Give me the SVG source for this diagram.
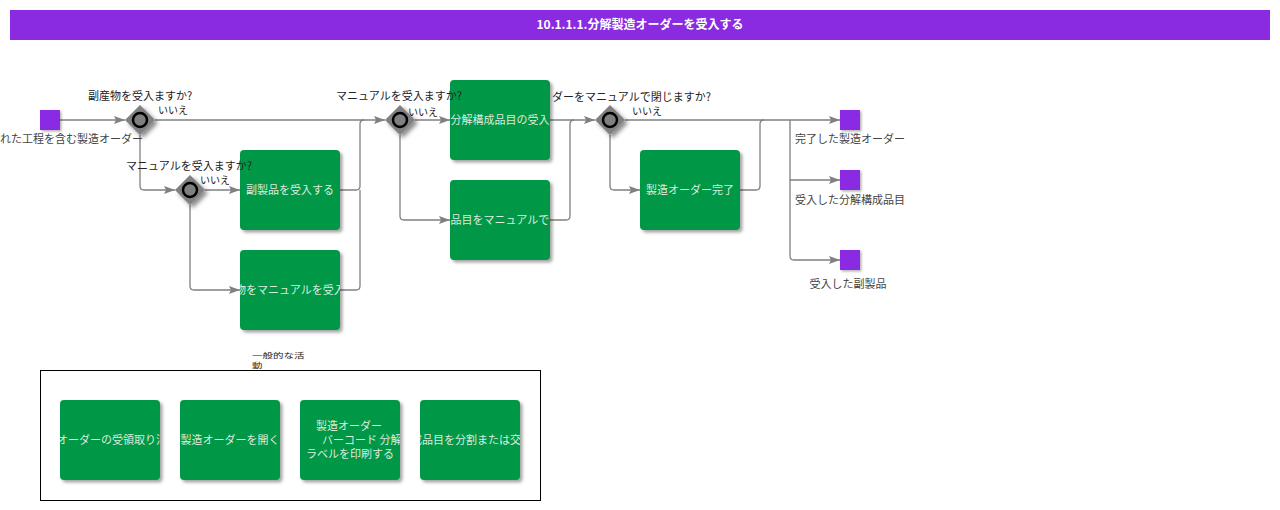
<svg xmlns="http://www.w3.org/2000/svg" width="1280" height="510" viewBox="0 0 1280 510">
<style>
text{font-family:"Noto Sans CJK JP","Noto Sans",sans-serif;}
.title{fill:#fff;font-size:12px;font-weight:bold;}
.task{fill:#009846;filter:url(#shadow);}
.tt{fill:#dcebdf;font-size:11px;}
.ev{fill:#8a2be2;filter:url(#shadowS);}
.gw{fill:#808080;filter:url(#shadowG);}
.gc{fill:#808080;stroke:#000;stroke-width:2.5;}
.lbl{fill:#222;font-size:11px;}
.no{fill:#222;font-size:10px;}
.evl{fill:#444;font-size:11px;}
.grp{fill:#222;font-size:10.5px;}
.con{fill:none;stroke:#808080;stroke-width:1.3;}
.arr{marker-end:url(#ah);}
</style>
<defs>
<filter id="shadow" x="-10%" y="-10%" width="130%" height="130%">
<feDropShadow dx="2.5" dy="2.5" stdDeviation="1.5" flood-color="#000" flood-opacity="0.35"/>
</filter>
<filter id="shadowS" x="-20%" y="-20%" width="150%" height="150%">
<feDropShadow dx="1.5" dy="1.5" stdDeviation="1" flood-color="#000" flood-opacity="0.3"/>
</filter>
<filter id="shadowG" x="-30%" y="-30%" width="170%" height="170%">
<feDropShadow dx="3" dy="3" stdDeviation="2" flood-color="#000" flood-opacity="0.45"/>
</filter>
<marker id="ah" markerUnits="userSpaceOnUse" markerWidth="12" markerHeight="10" refX="11" refY="5" orient="auto">
<path d="M0,1 L11,5 L0,9 L2,5 Z" fill="#808080"/>
</marker>
<clipPath id="cB"><rect x="240" y="250" width="100" height="80"/></clipPath>
<clipPath id="cD"><rect x="450" y="180" width="100" height="80"/></clipPath>
<clipPath id="cG1"><rect x="60" y="400" width="100" height="80"/></clipPath>
<clipPath id="cG3"><rect x="300" y="400" width="100" height="80"/></clipPath>
<clipPath id="cG4"><rect x="420" y="400" width="100" height="80"/></clipPath>
</defs>
<rect x="0" y="0" width="1280" height="510" fill="#fff"/>

<g id="title">
<rect x="10" y="10" width="1260" height="30" fill="#8a2be2"/>
<text class="title" x="640" y="29" text-anchor="middle">10.1.1.1.分解製造オーダーを受入する</text>
</g>

<g id="connectors">
<path class="con arr" d="M60,120 H125"/>
<path class="con arr" d="M155,120 H385"/>
<path class="con arr" d="M140,135 V186 Q140,190 144,190 H175"/>
<path class="con arr" d="M205,190 H240"/>
<path class="con arr" d="M190,205 V286 Q190,290 194,290 H240"/>
<path class="con" d="M340,190 H356 Q360,190 360,186 V124 Q360,120 364,120"/>
<path class="con" d="M340,290 H356 Q360,290 360,286 V190"/>
<path class="con arr" d="M415,120 H450"/>
<path class="con arr" d="M400,135 V216 Q400,220 404,220 H450"/>
<path class="con arr" d="M550,120 H595"/>
<path class="con" d="M550,220 H566 Q570,220 570,216 V124 Q570,120 574,120"/>
<path class="con arr" d="M625,120 H840"/>
<path class="con arr" d="M610,135 V186 Q610,190 614,190 H640"/>
<path class="con" d="M740,190 H756 Q760,190 760,186 V124 Q760,120 764,120"/>
<path class="con arr" d="M790,120 V180 H840"/>
<path class="con arr" d="M790,180 V256 Q790,260 794,260 H840"/>
<text class="no" x="158" y="114">いいえ</text>
<text class="no" x="200" y="184">いいえ</text>
<text class="no" x="408" y="116">いいえ</text>
<text class="no" x="632" y="115">いいえ</text>
</g>

<g id="start">
<rect class="ev" x="40" y="110" width="20" height="20"/>
<text class="evl" x="0" y="143">れた工程を含む製造オーダー</text>
</g>

<g id="gw1">
<polygon class="gw" points="140,105 155,120 140,135 125,120"/>
<circle class="gc" cx="140" cy="120" r="7"/>
<text class="lbl" x="140" y="100" text-anchor="middle">副産物を受入ますか?</text>
</g>

<g id="gw2">
<polygon class="gw" points="190,175 205,190 190,205 175,190"/>
<circle class="gc" cx="190" cy="190" r="7"/>
</g>

<g id="gw3">
<polygon class="gw" points="400,105 415,120 400,135 385,120"/>
<circle class="gc" cx="400" cy="120" r="7"/>
</g>

<g id="gw4">
<polygon class="gw" points="610,105 625,120 610,135 595,120"/>
<circle class="gc" cx="610" cy="120" r="7"/>
<text class="lbl" x="552" y="101">ダーをマニュアルで閉じますか?</text>
</g>

<g id="taskA">
<rect class="task" x="240" y="150" width="100" height="80" rx="4"/>
<text class="tt" x="290" y="194" text-anchor="middle">副製品を受入する</text>
</g>

<g id="taskB">
<rect class="task" x="240" y="250" width="100" height="80" rx="4"/>
<text class="tt" x="235" y="294" clip-path="url(#cB)">物をマニュアルを受入</text>
</g>

<g id="taskC">
<rect class="task" x="450" y="80" width="100" height="80" rx="4"/>
<text class="tt" x="500" y="124" text-anchor="middle">分解構成品目の受入</text>
</g>

<g id="taskD">
<rect class="task" x="450" y="180" width="100" height="80" rx="4"/>
<text class="tt" x="450.5" y="224" clip-path="url(#cD)">品目をマニュアルで</text>
</g>

<g id="taskE">
<rect class="task" x="640" y="150" width="100" height="80" rx="4"/>
<text class="tt" x="690" y="194" text-anchor="middle">製造オーダー完了</text>
</g>

<g id="gwLabels">
<text class="lbl" x="189" y="170" text-anchor="middle">マニュアルを受入ますか?</text>
<text class="lbl" x="399" y="100" text-anchor="middle">マニュアルを受入ますか?</text>
</g>

<g id="end1">
<rect class="ev" x="840" y="110" width="20" height="20"/>
<text class="evl" x="850" y="143" text-anchor="middle">完了した製造オーダー</text>
</g>
<g id="end2">
<rect class="ev" x="840" y="170" width="20" height="20"/>
<text class="evl" x="850" y="204" text-anchor="middle">受入した分解構成品目</text>
</g>
<g id="end3">
<rect class="ev" x="840" y="250" width="20" height="20"/>
<text class="evl" x="848" y="288" text-anchor="middle">受入した副製品</text>
</g>

<g id="group">
<rect x="40.5" y="370.5" width="500" height="130" fill="none" stroke="#000" stroke-width="1"/>
<text class="grp" transform="translate(252,358) scale(1,0.65)" x="0" y="0">一般的な活</text>
<text class="grp" transform="translate(252,368) scale(1,0.65)" x="0" y="0">動</text>
</g>

<g id="g1">
<rect class="task" x="60" y="400" width="100" height="80" rx="4"/>
<text class="tt" x="57" y="444" clip-path="url(#cG1)">オーダーの受領取り消</text>
</g>
<g id="g2">
<rect class="task" x="180" y="400" width="100" height="80" rx="4"/>
<text class="tt" x="230" y="444" text-anchor="middle">製造オーダーを開く</text>
</g>
<g id="g3">
<rect class="task" x="300" y="400" width="100" height="80" rx="4"/>
<text class="tt" clip-path="url(#cG3)"><tspan x="316" y="430">製造オーダー</tspan><tspan x="322" y="444">バーコード 分解</tspan><tspan x="306" y="458">ラベルを印刷する</tspan></text>
</g>
<g id="g4">
<rect class="task" x="420" y="400" width="100" height="80" rx="4"/>
<text class="tt" x="411" y="444" clip-path="url(#cG4)">成品目を分割または交</text>
</g>
</svg>
